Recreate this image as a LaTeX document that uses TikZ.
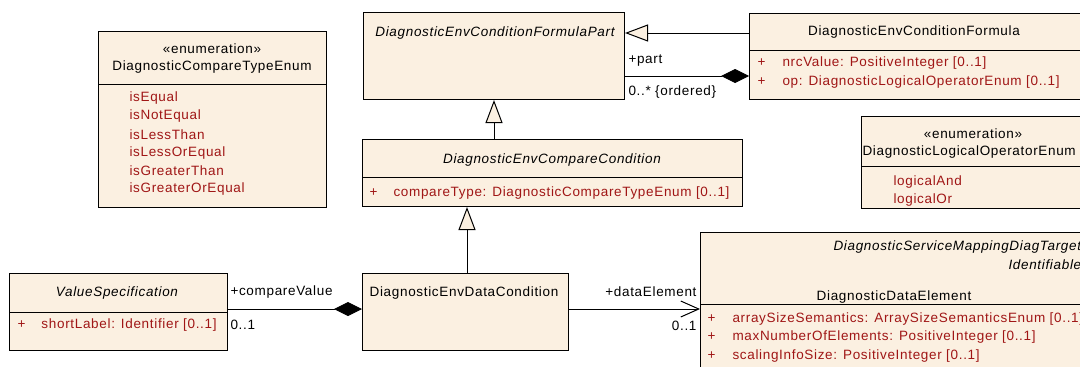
\documentclass[tikz,border=0pt]{standalone}
\usepackage{fontspec}
\setmainfont{Liberation Sans}[LetterSpace=5]
\usepackage{xcolor}
\usetikzlibrary{arrows.meta}

\definecolor{umlfill}{RGB}{251,240,225}
\definecolor{umlattr}{RGB}{160,22,22}

\begin{document}
\begin{tikzpicture}[x=1pt,y=-1pt,font=\fontsize{13.5}{16}\selectfont,line width=1pt]
    \tikzstyle{class}=[draw, fill=umlfill, anchor=north west, inner sep=0pt]
    \tikzstyle{lbl}=[inner sep=0pt, anchor=west]
    \tikzstyle{attr}=[lbl, text=umlattr]
    \tikzstyle{title}=[inner sep=0pt, anchor=center]
    \tikzstyle{inherit}=[-{Triangle[open, fill=umlfill, length=23, width=17]}]
    \tikzstyle{compose}=[{Diamond[length=28, width=14]}-]
    \tikzstyle{navig}=[-{Straight Barb[length=18, width=16]}]

    \useasboundingbox (0,0) rectangle (1080,367);
    \clip (0,0) rectangle (1080,367);

    % classes
    \node[class, minimum width=228, minimum height=176] (cte) at (98,31) {};
    \node[class, minimum width=261, minimum height=87] (cfp) at (363,12) {};
    \node[class, minimum width=340, minimum height=86] (cf) at (749,13) {};
    \node[class, minimum width=380, minimum height=67] (ecc) at (362,139) {};
    \node[class, minimum width=240, minimum height=92] (loe) at (861,116) {};
    \node[class, minimum width=218, minimum height=77] (vs) at (9,273) {};
    \node[class, minimum width=206, minimum height=77] (edc) at (362,273) {};
    \node[class, minimum width=400, minimum height=160] (dde) at (700,232) {};

    % compartments
    \draw (cte.west |- 0,84) -- (cte.east |- 0,84);
    \draw (cf.west |- 0,50) -- (cf.east |- 0,50);
    \draw (ecc.west |- 0,177) -- (ecc.east |- 0,177);
    \draw (loe.west |- 0,166) -- (loe.east |- 0,166);
    \draw (vs.west |- 0,312) -- (vs.east |- 0,312);
    \draw (dde.west |- 0,304) -- (dde.east |- 0,304);

    % DiagnosticCompareTypeEnum
    \node[title] (cteSt) at (212,49) {«enumeration»};
    \node[title] (cteName) at (212,67) {DiagnosticCompareTypeEnum};
    \foreach \lit [count=\i] in {isEqual, isNotEqual, isLessThan, isLessOrEqual, isGreaterThan, isGreaterOrEqual}
        \node[attr] (cteLit\i) at (129,79.8+18.2*\i) {\lit};

    % DiagnosticEnvConditionFormulaPart
    \node[title] (cfpName) at (495,33) {\itshape DiagnosticEnvConditionFormulaPart};

    % DiagnosticEnvConditionFormula
    \node[title] (cfName) at (914,32) {DiagnosticEnvConditionFormula};
    \node[attr] (cfP1) at (757,63) {+};
    \node[attr] (cfA1) at (782,63) {nrcValue: PositiveInteger [0..1]};
    \node[attr] (cfP2) at (757,82) {+};
    \node[attr] (cfA2) at (782,82) {op: DiagnosticLogicalOperatorEnum [0..1]};

    % DiagnosticEnvCompareCondition
    \node[title] (eccName) at (552,160) {\itshape DiagnosticEnvCompareCondition};
    \node[attr] (eccP1) at (369,193) {+};
    \node[attr] (eccA1) at (393,193) {compareType: DiagnosticCompareTypeEnum [0..1]};

    % DiagnosticLogicalOperatorEnum
    \node[title] (loeSt) at (973,134) {«enumeration»};
    \node[lbl] (loeName) at (862,152) {DiagnosticLogicalOperatorEnum};
    \node[attr] (loeLit1) at (893,182) {logicalAnd};
    \node[attr] (loeLit2) at (893,200) {logicalOr};

    % ValueSpecification
    \node[title] (vsName) at (117,293) {\itshape ValueSpecification};
    \node[attr] (vsP1) at (17,325) {+};
    \node[attr] (vsA1) at (41,325) {shortLabel: Identifier [0..1]};

    % DiagnosticEnvDataCondition
    \node[title] (edcName) at (464,293) {DiagnosticEnvDataCondition};

    % DiagnosticDataElement
    \node[lbl] (ddeBase1) at (833,247) {\itshape DiagnosticServiceMappingDiagTarget};
    \node[lbl] (ddeBase2) at (1008,265) {\itshape Identifiable};
    \node[title] (ddeName) at (894,297) {DiagnosticDataElement};
    \node[attr] (ddeP1) at (707,319) {+};
    \node[attr] (ddeA1) at (732,319) {arraySizeSemantics: ArraySizeSemanticsEnum [0..1]};
    \node[attr] (ddeP2) at (707,337) {+};
    \node[attr] (ddeA2) at (732,337) {maxNumberOfElements: PositiveInteger [0..1]};
    \node[attr] (ddeP3) at (707,356) {+};
    \node[attr] (ddeA3) at (732,356) {scalingInfoSize: PositiveInteger [0..1]};

    % relations
    \draw[inherit] (cf.west |- 0,33) -- (cfp.east |- 0,33);
    \draw[compose] (cf.west |- 0,76) -- (cfp.east |- 0,76);
    \node[lbl] (partRole) at (628,61) {+part};
    \node[lbl] (partMult) at (628,92) {0..* \{ordered\}};

    \draw[inherit] (ecc.north -| 494,0) -- (cfp.south -| 494,0);
    \draw[inherit] (edc.north -| 467,0) -- (ecc.south -| 467,0);

    \draw[compose] (edc.west |- 0,309) -- (vs.east |- 0,309);
    \node[lbl] (cvRole) at (230,292) {+compareValue};
    \node[lbl] (cvMult) at (230,325) {0..1};

    \draw[navig] (edc.east |- 0,309) -- (dde.west |- 0,309);
    \node[lbl, anchor=east] (deRole) at (697,292) {+dataElement};
    \node[lbl, anchor=east] (deMult) at (697,326) {0..1};
\end{tikzpicture}
\end{document}
